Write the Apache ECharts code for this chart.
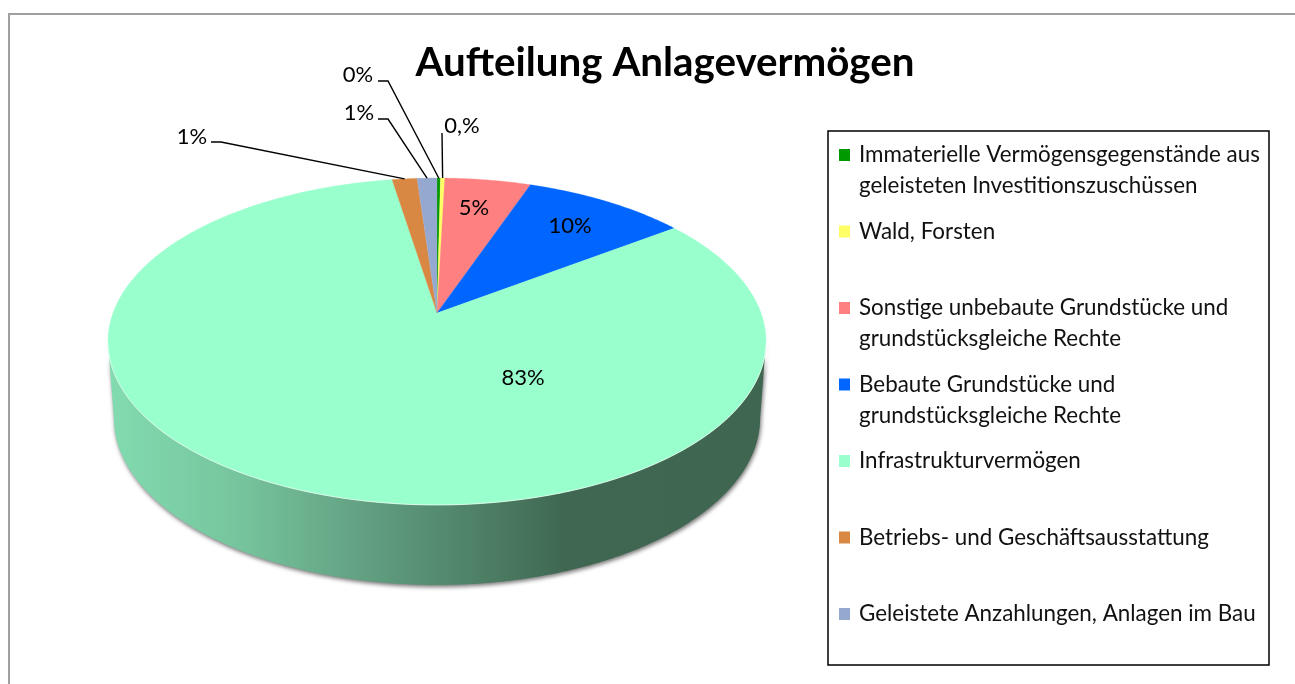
<!DOCTYPE html>
<html>
<head>
<meta charset="utf-8">
<style>html,body{margin:0;padding:0;background:#fff}#c{width:1295px;height:684px}</style>
<script src="https://cdn.jsdelivr.net/npm/echarts@6/dist/echarts.min.js"></script>
</head>
<body>
<div id="c"></div>
<script>
const titleText = 'Aufteilung Anlagevermögen';
const categories = [
  'Immaterielle Vermögensgegenstände aus\ngeleisteten Investitionszuschüssen',
  'Wald, Forsten',
  'Sonstige unbebaute Grundstücke und\ngrundstücksgleiche Rechte',
  'Bebaute Grundstücke und\ngrundstücksgleiche Rechte',
  'Infrastrukturvermögen',
  'Betriebs- und Geschäftsausstattung',
  'Geleistete Anzahlungen, Anlagen im Bau'
];
const values = [0.2, 0.25, 5.0, 9.5, 82.45, 1.45, 1.15];
const valueLabels = ['0%', '0,%', '5%', '10%', '83%', '1%', '1%'];
const colors = ['#009900', '#ffff66', '#ff8080', '#0066ff', '#99ffcc', '#d98843', '#95a9d0'];

// Layout of the perspective pie
const APEX = {x: 437, y: 313}, R = 324, B = 158.5, K = 0.1743;
const DEPTH = {sx: 0.982, sy: 1.021, dy: 76};
const FONT = 'Lato, "Open Sans", sans-serif';
const labelAnchors = [[358, 75], [462, 126], [474, 208], [570, 226], [523, 378], [192, 137], [359, 113]];
const leaders = [
  [[378, 81], [388, 81]],
  [[442, 133]],
  null, null, null,
  [[211, 142], [221, 142]],
  [[378, 119], [388, 119]]
];

const total = values.reduce((a, b) => a + b, 0);
function project(share, level) {
  const t = share * 2 * Math.PI;
  const u = Math.sin(t), v = -Math.cos(t), w = 1 - K * v;
  const x = R * u / w, y = B * v / w;
  return level ? [APEX.x + x * DEPTH.sx, APEX.y + y * DEPTH.sy + DEPTH.dy] : [APEX.x + x, APEX.y + y];
}
function rim(a, b, level) {
  const n = Math.max(2, Math.ceil((b - a) * 720)), pts = [];
  for (let i = 0; i <= n; i++) pts.push(project(a + (b - a) * i / n, level));
  return pts;
}

const seriesList = categories.map((name, idx) => {
  const start = values.slice(0, idx).reduce((a, b) => a + b, 0) / total;
  return {
    type: 'custom', name, coordinateSystem: 'none', silent: true,
    itemStyle: {color: colors[idx]},
    data: [[values[idx]]],
    renderItem(params, api) {
      const end = start + api.value(0) / total, color = colors[idx], children = [];
      if (idx === 4) {
        const a = 100.2 / 360, b = 259.8 / 360;
        const top = rim(a, b, 0), bottom = rim(a, b, 1).reverse();
        children.push({
          type: 'polygon', shape: {points: top.concat(bottom)},
          style: {
            fill: new echarts.graphic.LinearGradient(110, 0, 762, 0, [
              {offset: 0, color: '#82dbb0'}, {offset: 0.2, color: '#76c49d'},
              {offset: 0.4, color: '#619e80'}, {offset: 0.5, color: '#558c70'},
              {offset: 0.7, color: '#3f6751'}, {offset: 1, color: '#3e6650'}
            ], true),
            shadowBlur: 4, shadowColor: 'rgba(0,0,0,0.55)', shadowOffsetX: 1, shadowOffsetY: 2
          }
        });
      }
      children.push({
        type: 'polygon',
        shape: {points: [[APEX.x, APEX.y]].concat(rim(start, end, 0))},
        style: {fill: color, stroke: color, lineWidth: 0.3}
      });
      if (idx === 4) {
        children.push({type: 'polyline', shape: {points: rim(100.2 / 360, 259.8 / 360, 0)},
          style: {fill: null, stroke: 'rgba(255,255,255,0.6)', lineWidth: 1}});
      }
      const lead = leaders[idx];
      if (lead) {
        children.push({
          type: 'polyline', shape: {points: lead.concat([project((start + end) / 2, 0)])},
          z2: 20, style: {fill: null, stroke: '#000', lineWidth: 1.4}
        });
      }
      children.push({
        type: 'text', z2: 30, x: labelAnchors[idx][0], y: labelAnchors[idx][1],
        style: {text: valueLabels[idx], fill: '#000', font: '22px ' + FONT, align: 'center', verticalAlign: 'middle'}
      });
      return {type: 'group', children};
    }
  };
});

const chart = echarts.init(document.getElementById('c'), null, {renderer: 'canvas'});
chart.setOption({
  animation: false,
  backgroundColor: '#ffffff',
  title: {
    text: titleText, left: 660, top: 38, textAlign: 'center',
    textStyle: {fontFamily: FONT, fontWeight: 'bold', fontSize: 40.3, color: '#000'}
  },
  legend: {
    orient: 'vertical', left: 839, top: 108.5, padding: 0,
    itemWidth: 11, itemHeight: 12, itemGap: -16.5, icon: 'rect', selectedMode: false,
    formatter: n => n.includes('\n') ? '\n' + n : '\n' + n + '\n ',
    textStyle: {fontFamily: FONT, fontSize: 22.4, lineHeight: 31, color: '#111', padding: [0, 0, 0, 4]},
    data: categories
  },
  graphic: [
    {type: 'polyline', silent: true, shape: {points: [[9, 684], [9, 14], [1295, 14]]},
      style: {fill: null, stroke: '#a0a0a0', lineWidth: 2}},
    {type: 'rect', silent: true, shape: {x: 828, y: 131, width: 441, height: 534},
      style: {fill: null, stroke: '#000', lineWidth: 1.5}}
  ],
  series: seriesList
});
</script>
</body>
</html>
